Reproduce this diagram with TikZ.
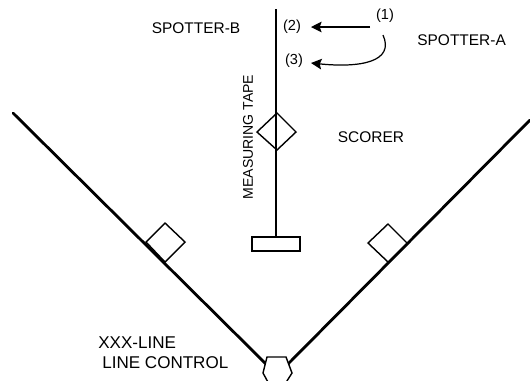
\documentclass[tikz,border=0pt]{standalone}
\usepackage{fontspec}
\setmainfont{Liberation Sans}
\usetikzlibrary{calc,arrows.meta,positioning}

\begin{document}
\begin{tikzpicture}[x=0.02cm,y=-0.02cm,
      lbl/.style={inner sep=0pt,font=\fontsize{8.8}{10}\selectfont},
      big/.style={inner sep=0pt,font=\fontsize{9.7}{11}\selectfont},
      num/.style={inner sep=0pt,font=\fontsize{8.3}{10}\selectfont},
      court/.style={line width=1.6pt,black,line cap=round},
      tape/.style={line width=1.5pt,black},
      box/.style={line width=0.8pt,black,fill=white},
      lead/.style={line width=0.7pt,-{Stealth[length=6pt,width=6pt,inset=1pt]}}]
    \useasboundingbox (0,0) rectangle (530,380);
    % court lines
    \coordinate (Lend) at (13,113);
    \coordinate (Lhome) at (266,364);
    \coordinate (Rend) at (530,120);
    \coordinate (Rhome) at (288,364);
    \draw[court] (Lend) -- (Lhome);
    \draw[court] (Rend) -- (Rhome);
    % tape and board
    \coordinate (Ttop) at (276,9);
    \coordinate (Tbot) at (276,237);
    \draw[tape] (Ttop) -- (Tbot);
    \node[draw,box,line width=1pt,minimum width=27.3pt,minimum height=7.6pt,inner sep=0pt] (board) at (276,244) {};
    % positions
    \draw[box] (146,242) -- (165,223) -- (185,242) -- (165,262) -- cycle;
    \draw[box] (368,243) -- (388,224) -- (407,243) -- (388,262) -- cycle;
    \draw[box,fill=none] (257,132) -- (277,113) -- (296,132) -- (277,150) -- cycle;
    \draw[box] (267,357) -- (286,357) -- (292,373) -- (285,384) -- (269,384) -- (263,373) -- cycle;
    % labels
    \node[num] (one) at (385,16) {(1)};
    \node[num] (two) at (292,27) {(2)};
    \node[num] (three) at (294,61) {(3)};
    \coordinate (oneA) at (370,27);
    \coordinate (oneB) at (383,35);
    \coordinate (twoA) at (311,27);
    \coordinate (threeA) at (311,63);
    \draw[lead] (oneA) -- (twoA);
    \draw[lead] (oneB) .. controls (395,62) and (360,68) .. (threeA);
    \node[lbl] (spotb) at (196,28) {SPOTTER-B};
    \node[lbl,anchor=west] (spota) at (417,40) {SPOTTER-A};
    \node[lbl] (scorer) at (371,137) {SCORER};
    \node[lbl,rotate=90,font=\fontsize{8}{10}\selectfont] (mtape) at (248,137) {MEASURING TAPE};
    \node[big,anchor=west] (xline) at (98,343) {XXX-LINE};
    \node[big,anchor=west] (lctrl) at (102,363) {LINE CONTROL};
  \end{tikzpicture}
\end{document}
